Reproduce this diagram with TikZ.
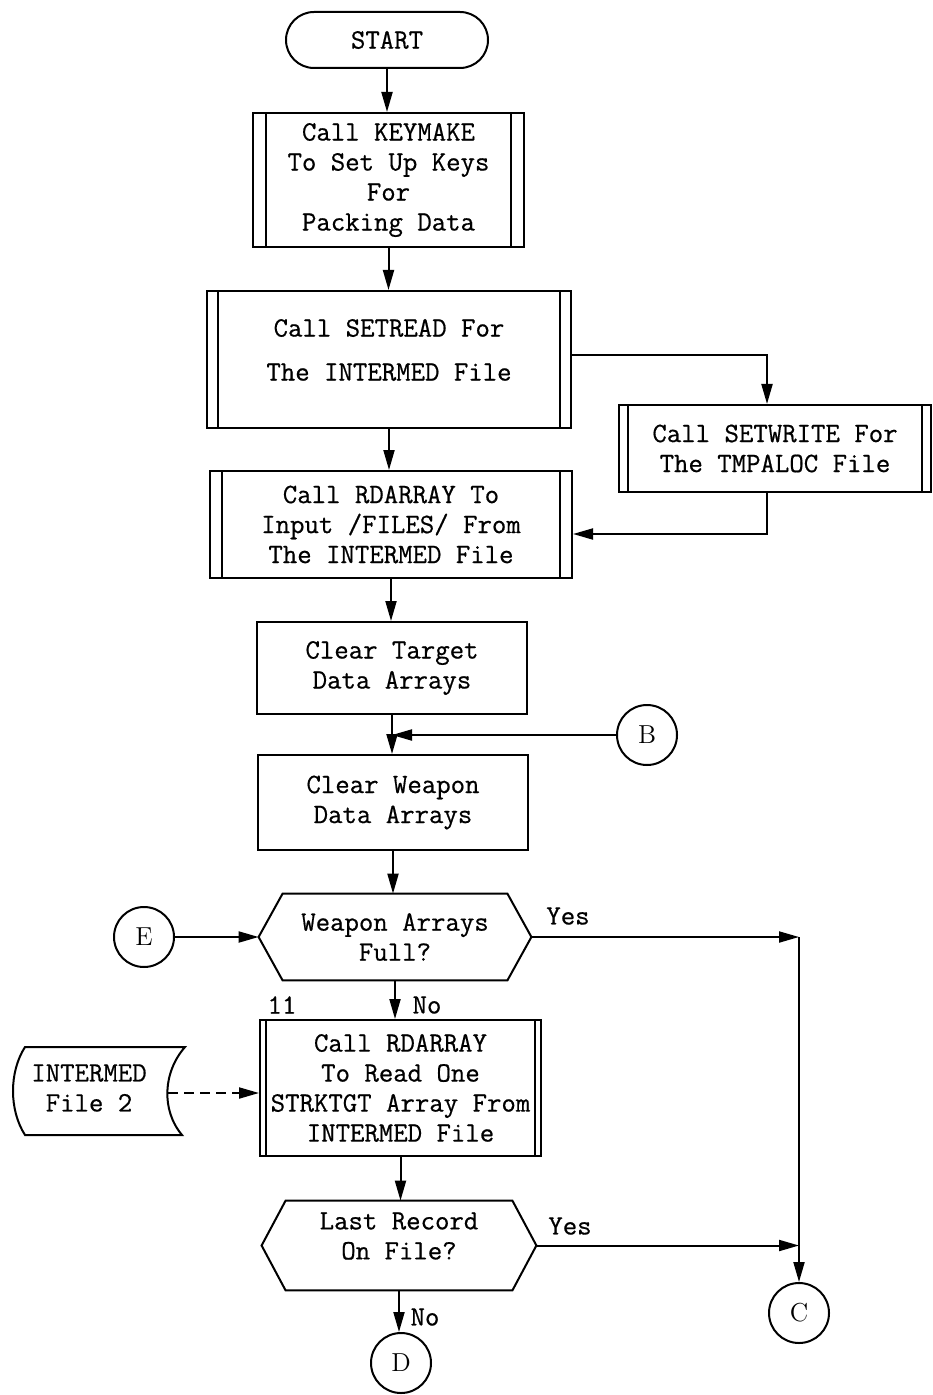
\documentclass[tikz,border=0pt]{standalone}
\usepackage{fontspec}
\newfontfamily\typew[FakeBold=0.6]{Latin Modern Mono}
\usetikzlibrary{arrows.meta,calc}
\begin{document}
\begin{tikzpicture}[x=0.5pt,y=-0.5pt,
  every node/.style={font=\typew\fontsize{14}{15}\selectfont, align=center, inner sep=0pt},
  ln/.style={line width=1pt},
  arr/.style={line width=1pt, -{Triangle[length=10pt,width=5.5pt]}},
  box/.style 2 args={draw, line width=1pt, rectangle, minimum width=#1*0.5pt, minimum height=#2*0.5pt},
  subr/.style n args={3}{box={#1}{#2},
    path picture={
      \draw[line width=1pt] ([xshift=#3*0.5pt]path picture bounding box.north west) -- ([xshift=#3*0.5pt]path picture bounding box.south west);
      \draw[line width=1pt] ([xshift=-#3*0.5pt]path picture bounding box.north east) -- ([xshift=-#3*0.5pt]path picture bounding box.south east);
    }},
  hexnode/.style 2 args={rectangle, minimum width=#1*0.5pt, minimum height=#2*0.5pt},
  conn/.style={draw, circle, line width=1pt, minimum size=30pt, font=\rmfamily\fontsize{13}{15}\selectfont}
]
\useasboundingbox (0,0) rectangle (932,1395);

% nodes
\node[box={202}{56}, rounded corners=14pt] (start) at (387,40) {START};
\node[subr={271}{134}{13}] (k) at (388.5,180) {Call KEYMAKE\\To Set Up Keys\\For\\Packing Data};
\node[subr={364}{137}{11}] (sr) at (389,359.5) {};
\node (srt) at (389,350) {Call SETREAD For\\[7pt]The INTERMED File};
\node[subr={312}{87}{9}] (sw) at (775,448.5) {Call SETWRITE For\\The TMPALOC File};
\node[subr={362}{107}{12}] (rd) at (391,524.5) {Call RDARRAY To\\Input /FILES/ From\\The INTERMED File};
\node[box={270}{92}] (ct) at (392,668) {Clear Target\\Data Arrays};
\node[box={270}{95}] (cw) at (393,802.5) {Clear Weapon\\Data Arrays};
\node[conn] (b) at (647,735) {B};
\node[hexnode={272}{86}] (d1) at (395,937) {Weapon Arrays\\Full?};
\node[conn] (e) at (144,937) {E};
\node[subr={281}{136}{6}] (r2) at (400.5,1088) {Call RDARRAY\\To Read One\\STRKTGT Array From\\INTERMED File};
\node[hexnode={274}{89}] (d2) at (399,1245.5) {};
\node (d2t) at (399,1236) {Last Record\\On File?};
\node[conn] (c) at (799,1313) {C};
\node[conn] (d) at (401,1363) {D};
\node (f) at (89,1088) {INTERMED\\File 2};

% decision shapes
\draw[ln] (d1.west) -- ([xshift=12pt]d1.north west) -- ([xshift=-12pt]d1.north east) -- (d1.east)
  -- ([xshift=-12pt]d1.south east) -- ([xshift=12pt]d1.south west) -- cycle;
\draw[ln] (d2.west) -- ([xshift=12pt]d2.north west) -- ([xshift=-12pt]d2.north east) -- (d2.east)
  -- ([xshift=-12pt]d2.south east) -- ([xshift=12pt]d2.south west) -- cycle;

% file (tape) shape
\draw[ln] (25,1047) -- (185,1047) .. controls (163,1072) and (161,1110) .. (182,1135)
  -- (25,1135) .. controls (9,1110) and (9,1072) .. (25,1047) -- cycle;
\coordinate (fe) at (168,1093);

% labels
\node (y1) at (568,916) {Yes};
\node (n1) at (427,1005) {No};
\node (l11) at (282,1005) {11};
\node (y2) at (570,1226) {Yes};
\node (n2) at (425,1317) {No};

% connectors
\draw[arr] (start.south) -- (start.south |- k.north);
\draw[arr] (k.south) -- (k.south |- sr.north);
\draw[arr] ([yshift=2.25pt]sr.east) -| ([xshift=-4pt]sw.north);
\draw[arr] ([xshift=-4pt]sw.south) |- ([yshift=-4.75pt]rd.east);
\draw[arr] (sr.south) -- (sr.south |- rd.north);
\draw[arr] (rd.south) -- (rd.south |- ct.north);
\draw[arr] (ct.south) -- (ct.south |- cw.north);
\draw[arr] (b.west) -- (ct.south |- b.west);
\draw[arr] (cw.south) -- (cw.south |- d1.north);
\draw[arr] (e.east) -- (d1.west);
\coordinate (cy1) at (c.north |- d1.east);
\draw[arr] (d1.east) -- (cy1);
\draw[arr] (cy1) -- (c.north);
\draw[arr] (d1.south) -- (d1.south |- r2.north);
\draw[arr, dash pattern=on 5pt off 3pt] (fe) -- (r2.west |- fe);
\draw[arr] (r2.south) -- (r2.south |- d2.north);
\draw[arr] (d2.east) -- (c.north |- d2.east);
\draw[arr] (d2.south) -- (d2.south |- d.north);
\end{tikzpicture}
\end{document}
